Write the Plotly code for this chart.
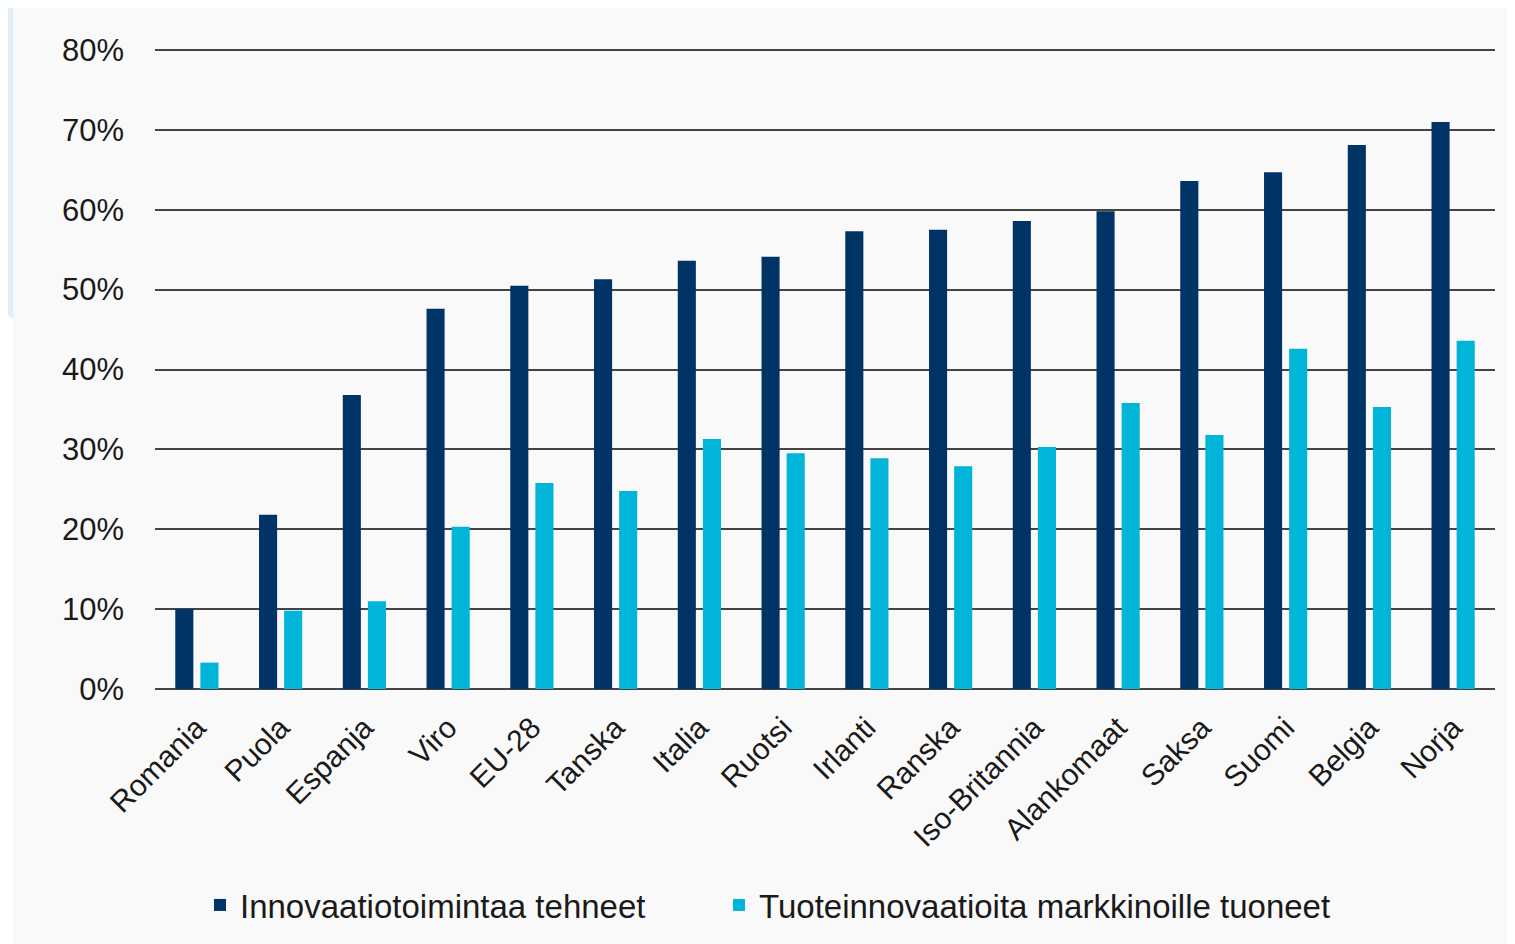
import plotly.graph_objects as go

# ── Colours ──────────────────────────────────────────────────────────────────
DARK_BLUE = "#003366"
CYAN      = "#00B5D8"
PANEL_BG  = "#F9F9F9"
GRID      = "#444444"
TEXT      = "#1A1A1A"

# ── Data (share of firms, %) ─────────────────────────────────────────────────
countries = ["Romania", "Puola", "Espanja", "Viro", "EU-28", "Tanska", "Italia",
             "Ruotsi", "Irlanti", "Ranska", "Iso-Britannia", "Alankomaat",
             "Saksa", "Suomi", "Belgia", "Norja"]
innovation_active = [10.0, 21.8, 36.8, 47.6, 50.5, 51.3, 53.6, 54.1,
                     57.3, 57.5, 58.6, 59.8, 63.6, 64.7, 68.1, 71.0]
product_innovators = [3.3, 9.8, 11.0, 20.3, 25.8, 24.8, 31.3, 29.5,
                      28.9, 27.9, 30.3, 35.8, 31.8, 42.6, 35.3, 43.6]
y_ticks = [0, 10, 20, 30, 40, 50, 60, 70, 80]
y_tick_labels = [f"{v}%" for v in y_ticks]

# figure size (page body adds an 8px margin) and plot-area margins
W, H = 1507, 936
L, R, T, B = 147, 20, 38, 254
PW, PH = W - L - R, H - T - B
OFF = 8  # body margin of the html page


def px_x(p):
    # screen pixel -> paper x
    return (p - OFF - L) / PW


def px_y(q):
    # screen pixel -> paper y
    return (H - B - (q - OFF)) / PH


fig = go.Figure()
fig.add_trace(go.Bar(
    name="Innovaatiotoimintaa tehneet", x=countries, y=innovation_active,
    marker=dict(color=DARK_BLUE, line=dict(width=0)), legend="legend",
))
fig.add_trace(go.Bar(
    name="Tuoteinnovaatioita markkinoille tuoneet", x=countries, y=product_innovators,
    marker=dict(color=CYAN, line=dict(width=0)), legend="legend2",
))

# background panel + light blue decoration at the left edge
fig.add_shape(type="rect", xref="paper", yref="paper", layer="below",
              x0=px_x(13), x1=px_x(1530), y0=px_y(960), y1=px_y(7),
              fillcolor=PANEL_BG, line=dict(width=0))
fig.add_shape(type="path", xref="paper", yref="paper", layer="below",
              path=(f"M {px_x(8)},{px_y(8)} L {px_x(35)},{px_y(8)} L {px_x(35)},{px_y(7)} "
                    f"L {px_x(13)},{px_y(7)} L {px_x(13)},{px_y(320)} L {px_x(8)},{px_y(316)} Z"),
              fillcolor="#E3EFF8", line=dict(width=0))

legend_style = dict(
    orientation="h", yanchor="middle", y=px_y(905), xanchor="left",
    font=dict(size=33), bgcolor="rgba(0,0,0,0)", itemwidth=30,
)

fig.update_layout(
    width=W, height=H,
    margin=dict(l=L, r=R, t=T, b=B),
    paper_bgcolor="white",
    plot_bgcolor=PANEL_BG,
    font=dict(family="Liberation Sans, Arial, sans-serif", color=TEXT, size=30),
    barmode="group",
    bargap=0.4,
    bargroupgap=0.28,
    showlegend=True,
    legend=dict(x=px_x(200), **legend_style),
    legend2=dict(x=px_x(719), **legend_style),
    xaxis=dict(
        tickangle=-45, tickfont=dict(size=30), showgrid=False,
        showline=False, ticks="", automargin=False, ticklabelstandoff=14,
    ),
    yaxis=dict(
        range=[0, 80.5], tickvals=y_ticks, ticktext=y_tick_labels,
        tickfont=dict(size=31), showgrid=True, gridcolor=GRID, gridwidth=2,
        zeroline=True, zerolinecolor=GRID, zerolinewidth=2,
        ticks="", ticklabelstandoff=30, automargin=False,
    ),
)

fig.write_html("out.html")
